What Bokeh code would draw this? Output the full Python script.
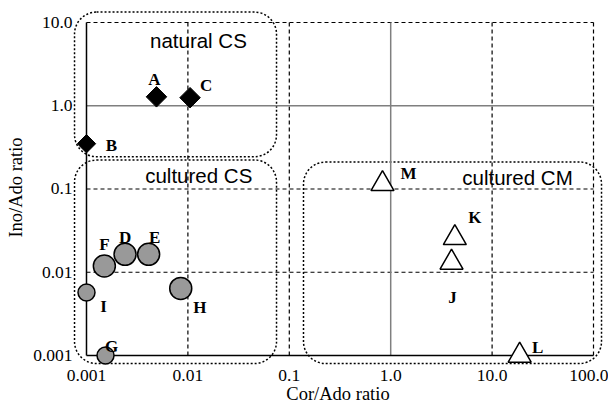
from bokeh.plotting import figure
from bokeh.models import BoxAnnotation, FixedTicker, Label, ColumnDataSource
from bokeh.core.properties import value
from bokeh.embed import file_html
from bokeh.resources import INLINE

# ---- data ----
natural_labels = ["A", "B", "C"]
natural_cor = [0.0049, 0.001, 0.0105]
natural_ino = [1.28, 0.35, 1.25]

cs_labels = ["D", "E", "F", "G", "H", "I"]
cs_cor = [0.0024, 0.0041, 0.0015, 0.00154, 0.0085, 0.001]
cs_ino = [0.0164, 0.0164, 0.0119, 0.001, 0.0064, 0.0057]

cm_labels = ["J", "K", "L", "M"]
cm_cor = [3.98, 4.29, 18.7, 0.83]
cm_ino = [0.0131, 0.0258, 0.001, 0.115]

x_ticks = [0.001, 0.01, 0.1, 1, 10, 100]
x_tick_labels = ["0.001", "0.01", "0.1", "1.0", "10.0", "100.0"]
y_ticks = [0.001, 0.01, 0.1, 1, 10]
y_tick_labels = ["0.001", "0.01", "0.1", "1.0", "10.0"]

# ---- styles (marker sizes, label offsets in px) ----
natural_size = [14.5, 13, 14.5]
natural_dx = [-2, 25, 16]
natural_dy = [-17, 2, -12]
cs_size = [22, 22, 22, 17, 22, 17]
cs_dx = [0, 6, 0, 6, 19, 17]
cs_dy = [-17, -17, -21, -9, 19, 14]
cm_size = [23, 23, 23, 23]
cm_dx = [1, 20, 18, 26]
cm_dy = [35, -20, -8, -10]

x_lo, x_hi = x_ticks[0], x_ticks[-1]
y_lo, y_hi = y_ticks[0], y_ticks[-1]

# frame extends a little beyond the axes (in decades) so edge markers are not clipped
p = figure(frame_width=531, frame_height=356, x_axis_type="log", y_axis_type="log",
           x_range=(x_lo * 10**-0.138, x_hi * 10**0.0986),
           y_range=(y_lo * 10**-0.120, y_hi * 10**0.156),
           output_backend="svg", toolbar_location=None,
           min_border_left=72, min_border_right=5, min_border_top=9, min_border_bottom=0)
p.outline_line_color = None
p.xgrid.visible = False
p.ygrid.visible = False

for ax, ticks, labels in ((p.xaxis[0], x_ticks, x_tick_labels), (p.yaxis[0], y_ticks, y_tick_labels)):
    ax.ticker = FixedTicker(ticks=ticks, minor_ticks=[])
    ax.major_label_overrides = {t: l for t, l in zip(ticks, labels)}
    ax.major_tick_line_color = None
    ax.minor_tick_line_color = None
    ax.major_tick_out = 0
    ax.major_tick_in = 0
    ax.axis_line_color = None
    ax.major_label_text_font = "Liberation Serif"
    ax.major_label_text_font_size = "17.5px"
    ax.major_label_text_color = "black"
    ax.axis_label_text_font = "Liberation Serif"
    ax.axis_label_text_font_size = "18.5px"
    ax.axis_label_text_font_style = "normal"
    ax.axis_label_text_color = "black"

p.xaxis.axis_label = "Cor/Ado ratio"
p.yaxis.axis_label = "Ino/Ado ratio"
p.xaxis.major_label_standoff = 4
p.xaxis.axis_label_standoff = 0
p.yaxis.major_label_standoff = 0
p.yaxis.axis_label_standoff = 4

# grid lines, drawn between the axis ends
dash_x = [t for t in x_ticks if t not in (x_lo, 1)]
dash_y = [t for t in y_ticks if t not in (y_lo, 1)]
p.segment(x0=dash_x, y0=[y_lo] * len(dash_x), x1=dash_x, y1=[y_hi] * len(dash_x),
          line_color="black", line_dash="4 3", line_width=1.2)
p.segment(x0=[x_lo] * len(dash_y), y0=dash_y, x1=[x_hi] * len(dash_y), y1=dash_y,
          line_color="black", line_dash="4 3", line_width=1.2)
p.segment(x0=[1, x_lo], y0=[y_lo, 1], x1=[1, x_hi], y1=[y_hi, 1],
          line_color="#7f7f7f", line_width=1.5)
p.segment(x0=[x_lo, x_lo], y0=[y_lo, y_lo], x1=[x_lo, x_hi], y1=[y_hi, y_lo],
          line_color="black", line_width=1.5)

# rounded dotted group boxes
def box(l, r, b, t):
    return BoxAnnotation(left=10**l, right=10**r, bottom=10**b, top=10**t,
                         fill_alpha=0, line_color="black", line_alpha=1.0,
                         line_dash="2 2", line_width=1.5,
                         border_radius=22, level="underlay")

p.add_layout(box(-3.118, -1.126, -0.612, 1.125))
p.add_layout(box(-3.118, -1.126, -3.096, -0.652))
p.add_layout(box(-0.860, 2.079, -3.096, -0.676))

txt = dict(text_font="Liberation Sans", text_font_size="20.5px", text_align="center",
           text_baseline="middle", text_color="black")
p.add_layout(Label(x=0.0127, y=6.16, text="natural CS", **txt))
p.add_layout(Label(x=0.0128, y=0.147, text="cultured CS", **txt))
p.add_layout(Label(x=17.8, y=0.139, text="cultured CM", **txt))

src_n = ColumnDataSource(dict(x=natural_cor, y=natural_ino, t=natural_labels, s=natural_size,
                              dx=natural_dx, dy=natural_dy))
src_s = ColumnDataSource(dict(x=cs_cor, y=cs_ino, t=cs_labels, s=cs_size, dx=cs_dx, dy=cs_dy))
src_m = ColumnDataSource(dict(x=cm_cor, y=cm_ino, t=cm_labels, s=cm_size, dx=cm_dx, dy=cm_dy))

p.scatter("x", "y", source=src_n, marker="square", angle=0.785398, size="s",
          fill_color="black", line_color="black")
p.scatter("x", "y", source=src_s, marker="circle", size="s",
          fill_color="#999999", line_color="black", line_width=1.5)
p.scatter("x", "y", source=src_m, marker="triangle", size="s",
          fill_color="white", line_color="black", line_width=1.5)

for src in (src_n, src_s, src_m):
    p.text("x", "y", text="t", source=src, x_offset="dx", y_offset="dy",
           text_font=value("Liberation Serif"), text_font_style="bold",
           text_font_size="17px", text_align="center", text_baseline="middle",
           text_color="black")

open("out.html", "w").write(file_html(p, INLINE))
